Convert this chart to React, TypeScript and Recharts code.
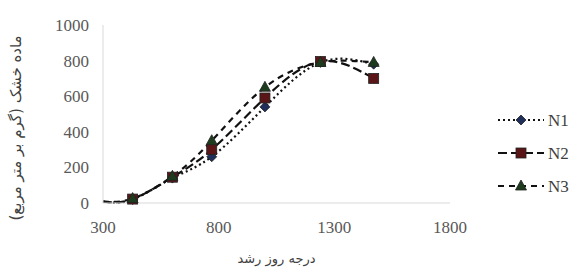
import { LineChart, Line, XAxis, YAxis, Label } from "recharts";

const gdd = [300, 428, 600, 770, 1000, 1240, 1470];
const n1 = [8, 20, 140, 260, 540, 790, 780];
const n2 = [8, 22, 145, 300, 590, 795, 700];
const n3 = [8, 25, 150, 350, 650, 790, 790];

const xTicks = [300, 800, 1300, 1800];
const yTicks = [0, 200, 400, 600, 800, 1000];

const seriesNames = ["N1", "N2", "N3"];

const data = gdd.map((g, i) => ({ gdd: g, N1: n1[i], N2: n2[i], N3: n3[i] }));

type Shape = "diamond" | "square" | "triangle";

const series: { key: string; shape: Shape; fill: string; dash: string }[] = [
  { key: seriesNames[0], shape: "diamond", fill: "#1f2f5a", dash: "2 3" },
  { key: seriesNames[1], shape: "square", fill: "#5a1616", dash: "9 4" },
  { key: seriesNames[2], shape: "triangle", fill: "#1d3b1d", dash: "6 5" },
];

function marker(shape: Shape, cx: number, cy: number, fill: string) {
  if (shape === "diamond") {
    return (
      <polygon
        points={`${cx},${cy - 5} ${cx + 5},${cy} ${cx},${cy + 5} ${cx - 5},${cy}`}
        fill={fill}
        stroke="#222"
        strokeWidth={0.8}
      />
    );
  }
  if (shape === "square") {
    return <rect x={cx - 5} y={cy - 5} width={10} height={10} fill={fill} stroke="#222" strokeWidth={0.8} />;
  }
  return (
    <polygon
      points={`${cx},${cy - 6} ${cx + 5.5},${cy + 4} ${cx - 5.5},${cy + 4}`}
      fill={fill}
      stroke="#222"
      strokeWidth={0.8}
    />
  );
}

const makeDot = (shape: Shape, fill: string) => (props: any) => {
  const { cx, cy, index } = props;
  if (index === 0 || cx == null || cy == null) return <g key={`e-${index}`} />;
  return <g key={`d-${index}`}>{marker(shape, cx, cy, fill)}</g>;
};

const tickStyle = { fill: "#595959", fontSize: 17, fontFamily: "Liberation Serif" };

export default function App() {
  return (
    <div style={{ position: "fixed", left: 0, top: 0, width: 582, height: 272, background: "#fff" }}>
      <LineChart
        width={582}
        height={272}
        data={data}
        margin={{ top: 25, right: 132, bottom: 0, left: 0 }}
        style={{ fontFamily: "Liberation Serif" }}
      >
        <XAxis
          dataKey="gdd"
          type="number"
          domain={[300, 1800]}
          ticks={xTicks}
          height={69}
          tickLine={false}
          tickSize={0}
          tickMargin={18}
          stroke="#d9d9d9"
          tick={tickStyle}
        >
          <Label
            value="درجه روز رشد"
            position="insideBottom"
            offset={9}
            style={{ fill: "#404040", fontSize: 13, fontFamily: "DejaVu Sans" }}
          />
        </XAxis>
        <YAxis
          type="number"
          domain={[0, 1000]}
          ticks={yTicks}
          width={103}
          tickLine={false}
          tickSize={0}
          tickMargin={14}
          stroke="#d9d9d9"
          tick={tickStyle}
        >
          <Label
            value="ماده خشک (گرم بر متر مربع)"
            angle={-90}
            position="insideLeft"
            offset={16}
            dy={14}
            style={{ textAnchor: "middle", fill: "#404040", fontSize: 15, fontFamily: "DejaVu Sans" }}
          />
        </YAxis>
        {series.map((s) => (
          <Line
            key={s.key}
            dataKey={s.key}
            type="natural"
            stroke="#111"
            strokeWidth={2.2}
            strokeDasharray={s.dash}
            dot={makeDot(s.shape, s.fill)}
            activeDot={false}
            isAnimationActive={false}
          />
        ))}
      </LineChart>
      <svg style={{ position: "absolute", left: 494, top: 100 }} width={88} height={100}>
        {series.map((s, i) => {
          const y = 20 + i * 33;
          return (
            <g key={s.key}>
              <line x1={4} x2={50} y1={y} y2={y} stroke="#111" strokeWidth={2.2} strokeDasharray={s.dash} />
              {marker(s.shape, 27, y, s.fill)}
              <text x={54} y={y + 6} fontSize={17} fontFamily="Liberation Serif" fill="#404040">
                {s.key}
              </text>
            </g>
          );
        })}
      </svg>
    </div>
  );
}
